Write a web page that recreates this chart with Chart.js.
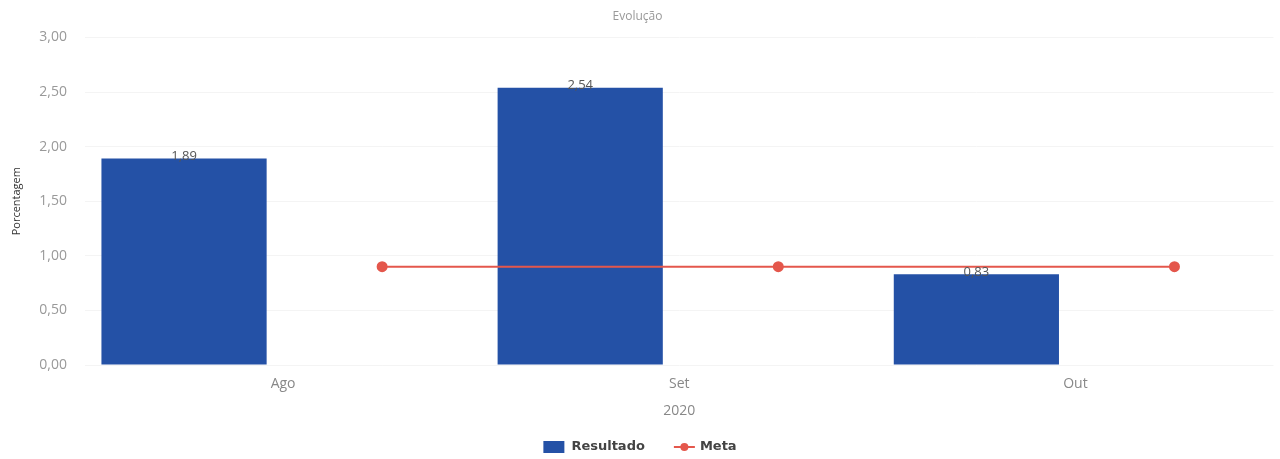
<!DOCTYPE html>
<html>
<head>
<meta charset="utf-8">
<script src="https://cdn.jsdelivr.net/npm/chart.js@4.4.1/dist/chart.umd.min.js"></script>
<style>
  html, body { margin:0; padding:0; background:#fff; }
  #wrap { width:1280px; height:459px; }
</style>
</head>
<body>
<div id="wrap"><canvas id="evolucao"></canvas></div>
<script>
// dados
const meses = ["Ago", "Set", "Out"];
const resultado = [1.89, 2.54, 0.83];
const meta = [0.9, 0.9, 0.9];
const yTicks = [0, 0.5, 1, 1.5, 2, 2.5, 3];
const ano = "2020";

const AZUL = "#2451a6";
const VERMELHO = "#e4574c";
const FONTE = "'Open Sans', 'Liberation Sans', Arial, sans-serif";

function fmt(v){
  return v.toFixed(2).replace(".", ",");
}

// rótulos em cima das barras
const valorLabels = {
  id: "valorLabels",
  afterDatasetsDraw(chart){
    const m = chart.getDatasetMeta(0);
    const ctx = chart.ctx;
    ctx.save();
    ctx.font = "13px " + FONTE;
    ctx.fillStyle = "#555";
    ctx.textAlign = "center";
    ctx.textBaseline = "bottom";
    m.data.forEach((bar, i) => {
      ctx.fillText(fmt(resultado[i]), bar.x, bar.y + 4);
    });
    ctx.restore();
  }
};

// legenda desenhada na mao (espacamento igual ao original)
const legenda = {
  id: "legenda",
  afterDraw(chart){
    const ctx = chart.ctx;
    const ds = chart.data.datasets;
    ctx.save();
    ctx.font = "bold 13px 'DejaVu Sans', sans-serif";
    const w1 = ctx.measureText(ds[0].label).width;
    const w2 = ctx.measureText(ds[1].label).width;
    const total = 21 + 7 + w1 + 29 + 21 + 5 + w2;
    let x = chart.width / 2 - total / 2;
    const y = chart.height - 12;

    ctx.fillStyle = AZUL;
    ctx.fillRect(x, y - 6, 21, 12);
    x += 28;
    ctx.fillStyle = "#444";
    ctx.textBaseline = "middle";
    ctx.fillText(ds[0].label, x, y);
    x += w1 + 29;

    ctx.strokeStyle = VERMELHO;
    ctx.lineWidth = 2;
    ctx.beginPath(); ctx.moveTo(x, y); ctx.lineTo(x + 21, y); ctx.stroke();
    ctx.fillStyle = VERMELHO;
    ctx.beginPath(); ctx.arc(x + 10.5, y, 4, 0, Math.PI * 2); ctx.fill();
    x += 26;
    ctx.fillStyle = "#444";
    ctx.fillText(ds[1].label, x, y);
    ctx.restore();
  }
};

new Chart(document.getElementById("evolucao"), {
  type: "bar",
  data: {
    labels: meses,
    datasets: [
      {
        label: "Resultado",
        data: resultado.map((v, i) => ({ x: i - 0.25, y: v })),
        xAxisID: "xl",
        backgroundColor: AZUL,
        barPercentage: 0.417,
        categoryPercentage: 1,
        order: 1
      },
      {
        type: "line",
        label: "Meta",
        data: meta.map((v, i) => ({ x: i + 0.25, y: v })),
        xAxisID: "xl",
        borderColor: VERMELHO,
        backgroundColor: VERMELHO,
        borderWidth: 2,
        pointRadius: 4.5,
        pointStyle: "circle",
        order: 0
      }
    ]
  },
  options: {
    responsive: true,
    maintainAspectRatio: false,
    animation: false,
    layout: { padding: { left: 0, right: 5, top: 0, bottom: 40 } },
    plugins: {
      title: {
        display: true,
        text: "Evolução",
        color: "#999",
        font: { size: 12, family: FONTE, weight: "normal" },
        padding: { top: 9, bottom: 14 }
      },
      legend: { display: false },
      tooltip: { enabled: false }
    },
    scales: {
      x: {
        type: "category",
        offset: true,
        grid: { display: false, drawTicks: false },
        border: { display: false },
        ticks: { color: "#888", font: { size: 14, family: FONTE }, padding: 11 },
        title: { display: true, text: ano, color: "#888", font: { size: 14, family: FONTE }, padding: { top: 9, bottom: 0 } },
        afterFit: s => { s.height = 54; }
      },
      xl: {
        type: "linear",
        display: false,
        offset: false,
        min: -0.5,
        max: meses.length - 0.5,
        ticks: { stepSize: 1 }
      },
      y: {
        min: yTicks[0],
        max: yTicks[yTicks.length - 1],
        afterBuildTicks: s => { s.ticks = yTicks.map(v => ({ value: v })); },
        grid: { color: "#f4f4f4", drawTicks: false },
        border: { display: false },
        ticks: {
          color: "#999",
          font: { size: 14, family: FONTE },
          padding: 18,
          callback: v => fmt(v)
        },
        title: { display: true, text: "Porcentagem", color: "#333", font: { size: 11, family: FONTE }, padding: { top: 10, bottom: 15 } },
        afterFit: s => { s.width = 85; }
      }
    }
  },
  plugins: [valorLabels, legenda]
});
</script>
</body>
</html>
